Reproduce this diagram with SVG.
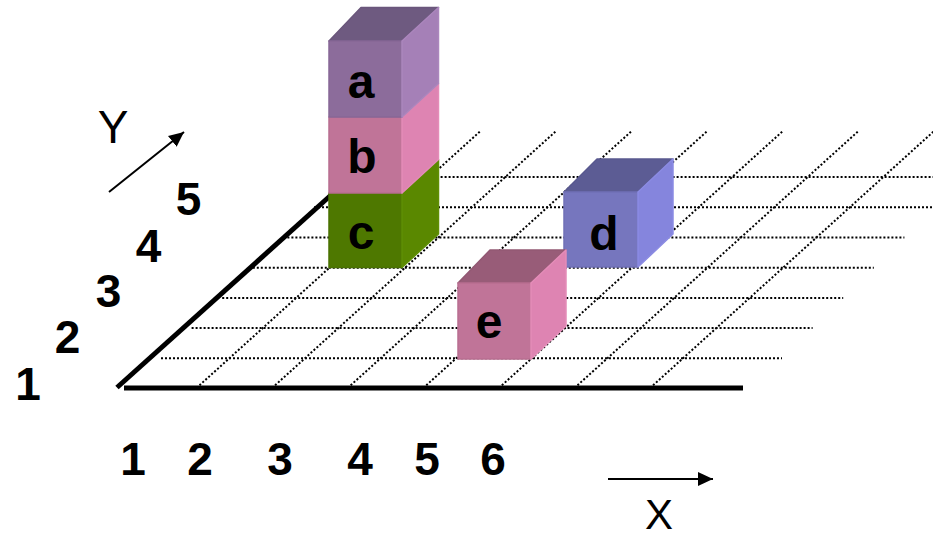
<svg xmlns="http://www.w3.org/2000/svg" width="933" height="538" viewBox="0 0 933 538">
<defs>
<marker id="ah" markerUnits="userSpaceOnUse" markerWidth="16" markerHeight="15" refX="15" refY="7" orient="auto">
<path d="M0,0 L15,7 L0,14 z" fill="#000"/>
</marker>
<style>
.grid{stroke:#000;stroke-width:2;stroke-dasharray:2 2;fill:none}
.axis{stroke:#000;stroke-width:5;fill:none}
.arr{stroke:#000;stroke-width:2;fill:none}
.lbl{font-family:"Liberation Sans",Arial,sans-serif;font-weight:bold;font-size:46px;text-anchor:middle;fill:#000}
.cl{font-family:"Liberation Sans",Arial,sans-serif;font-weight:bold;font-size:48px;text-anchor:middle;fill:#000}
.ax{font-family:"Liberation Sans",Arial,sans-serif;font-size:46px;text-anchor:middle;fill:#000}
.f{stroke-width:1.5;stroke-linejoin:round}
</style>
</defs>
<rect width="933" height="538" fill="#fff"/>
<g id="grid">
<line class="grid" x1="161" y1="358.3" x2="782" y2="358.3"/>
<line class="grid" x1="191.6" y1="328.1" x2="812.6" y2="328.1"/>
<line class="grid" x1="222.2" y1="297.9" x2="843.2" y2="297.9"/>
<line class="grid" x1="252.8" y1="267.7" x2="873.8" y2="267.7"/>
<line class="grid" x1="283.4" y1="237.5" x2="904.4" y2="237.5"/>
<line class="grid" x1="314" y1="207.3" x2="935" y2="207.3"/>
<line class="grid" x1="344.6" y1="177.1" x2="965.6" y2="177.1"/>
<line class="grid" x1="196.5" y1="388" x2="480.5" y2="131"/>
<line class="grid" x1="272.1" y1="388" x2="556.1" y2="131"/>
<line class="grid" x1="347.7" y1="388" x2="631.7" y2="131"/>
<line class="grid" x1="423.3" y1="388" x2="707.3" y2="131"/>
<line class="grid" x1="498.9" y1="388" x2="782.9" y2="131"/>
<line class="grid" x1="574.5" y1="388" x2="858.5" y2="131"/>
<line class="grid" x1="650.1" y1="388" x2="934.1" y2="131"/>
</g>
<g id="axes">
<line class="axis" x1="124" y1="388" x2="743" y2="388"/>
<line class="axis" x1="117" y1="387.5" x2="340" y2="187"/>
</g>
<g id="cube-c">
<rect class="f" x="329" y="193" width="73" height="74.5" fill="#4E7800" stroke="#4A7200"/>
<polygon class="f" points="402,193 438.5,159.5 438.5,234 402,267.5" fill="#5A8800" stroke="#5F8F05"/>
<text class="cl" x="361" y="249">c</text>
</g>
<g id="cube-b">
<rect class="f" x="329" y="117" width="73" height="76" fill="#C07498" stroke="#B86E90"/>
<polygon class="f" points="402,117 438.5,83.5 438.5,159.5 402,193" fill="#DE84B2" stroke="#E48CB8"/>
<text class="cl" x="362" y="173">b</text>
</g>
<g id="cube-a">
<polygon class="f" points="329,41 361,7.5 438.5,7.5 402,41" fill="#6E5A80" stroke="#6A567B"/>
<rect class="f" x="329" y="41" width="73" height="76" fill="#8C6C9B" stroke="#866796"/>
<polygon class="f" points="402,41 438.5,7.5 438.5,83.5 402,117" fill="#A580B7" stroke="#AB86BD"/>
<text class="cl" x="361" y="98">a</text>
</g>
<g id="cube-d">
<polygon class="f" points="564,192 597,159 673,159 638,192" fill="#5C5C94" stroke="#58588F"/>
<rect class="f" x="564" y="192" width="74" height="75" fill="#7676BE" stroke="#7070B6"/>
<polygon class="f" points="638,192 673,159 673,234 638,267" fill="#8585DD" stroke="#8B8BE3"/>
<text class="cl" x="604" y="250">d</text>
</g>
<g id="cube-e">
<polygon class="f" points="458,283 490,250 566,250 531,283" fill="#985C78" stroke="#925873"/>
<rect class="f" x="458" y="283" width="73" height="76" fill="#C07498" stroke="#B86E90"/>
<polygon class="f" points="531,283 566,250 566,326 531,359" fill="#DE84B2" stroke="#E48CB8"/>
<text class="cl" x="489" y="338">e</text>
</g>
<g id="connectors">
<line class="arr" x1="109" y1="192" x2="184" y2="132" marker-end="url(#ah)"/>
<line class="arr" x1="608" y1="479" x2="713" y2="479" marker-end="url(#ah)"/>
</g>
<g id="x-labels">
<text class="lbl" x="133" y="475">1</text>
<text class="lbl" x="200" y="475">2</text>
<text class="lbl" x="280" y="475">3</text>
<text class="lbl" x="360" y="475">4</text>
<text class="lbl" x="427" y="475">5</text>
<text class="lbl" x="493" y="475">6</text>
<text class="ax" x="659" y="529" style="font-size:42px">X</text>
</g>
<g id="y-labels">
<text class="lbl" x="28" y="400">1</text>
<text class="lbl" x="67.5" y="353">2</text>
<text class="lbl" x="108.5" y="307">3</text>
<text class="lbl" x="148.5" y="262">4</text>
<text class="lbl" x="188.5" y="215">5</text>
<text class="ax" x="113" y="143">Y</text>
</g>
</svg>
